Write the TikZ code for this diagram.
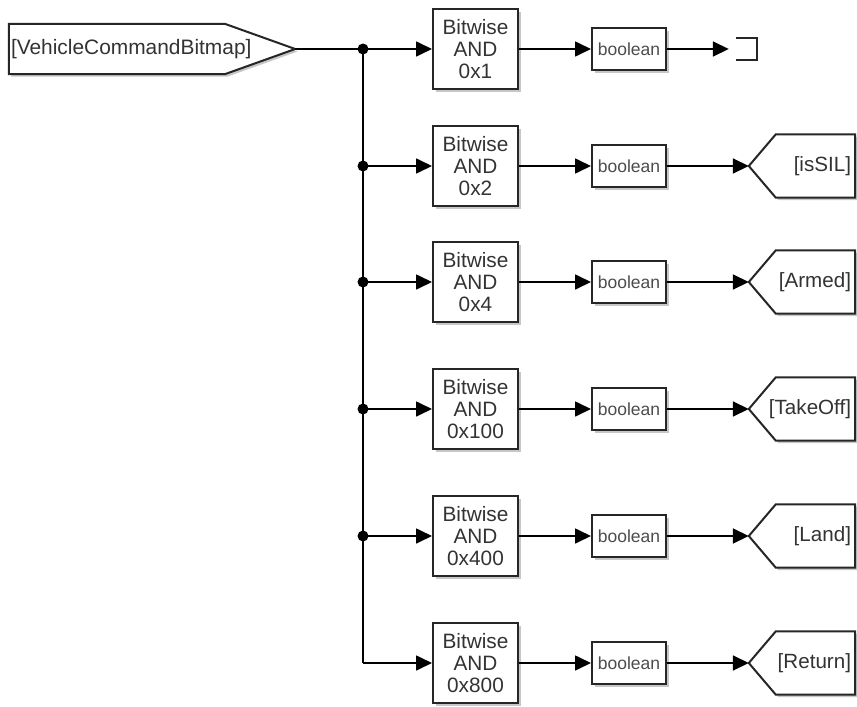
\documentclass[tikz,border=0pt]{standalone}
\usepackage{fontspec}
\setmainfont{Liberation Sans}
\usetikzlibrary{arrows.meta,shadows}
\tikzset{
  shd/.style={drop shadow={shadow xshift=2.5pt, shadow yshift=-2.5pt, fill=black!22, opacity=1}},
  bitblk/.style={draw=black!85, line width=2pt, fill=white, shd, minimum width=85pt, minimum height=80pt,
    inner sep=0pt, align=center, text=black!80, font=\fontsize{20.8}{21.7}\selectfont},
  boolblk/.style={draw=black!85, line width=2pt, fill=white, shd, minimum width=74pt, minimum height=42pt,
    inner sep=0pt, align=center, text=black!70, font=\fontsize{17.5}{18}\selectfont},
  gotolbl/.style={minimum height=63pt, text width=98pt, inner xsep=4pt, inner ysep=0pt, align=right,
    text=black!80, font=\fontsize{20.6}{21.7}\selectfont},
  srclbl/.style={minimum height=50pt, text width=282pt, inner xsep=2pt, inner ysep=0pt, align=left,
    text=black!80, font=\fontsize{20.9}{21.7}\selectfont},
  outline/.style={draw=black!85, line width=2pt, fill=white, shd},
  wire/.style={draw=black, line width=1.7pt},
  arr/.style={wire, -{Triangle[length=16pt,width=15pt]}},
  jdot/.style={circle, fill=black, inner sep=0pt, minimum size=11pt},
}
\begin{document}
\begin{tikzpicture}[x=1pt,y=-1pt]
\useasboundingbox (0,0) rectangle (857,707);
% source goto
\node (src) [srclbl] at (152,49) {};
\path[outline] (src.north west) -- ([xshift=216pt]src.north west) -- (src.east)
   -- ([xshift=216pt]src.south west) -- (src.south west) -- cycle;
\node[srclbl] at (152,49) {[VehicleCommandBitmap]};
% rows
\foreach \r/\y/\m in {1/49/0x1, 2/166/0x2, 3/282/0x4, 4/409/0x100, 5/536/0x400, 6/663/0x800}{
  \coordinate (j\r) at (363,\y);
  \node (b\r) [bitblk] at (475.5,\y) {Bitwise\\AND\\\m};
  \node (c\r) [boolblk] at (629,\y) {boolean};
}
% goto blocks
\foreach \r/\y/\g in {2/166/[isSIL], 3/282/[Armed], 4/409/[TakeOff], 5/536/[Land], 6/663/[Return]}{
  \node (g\r) [gotolbl] at (802,\y) {};
  \path[outline] (g\r.west) -- ([xshift=27pt]g\r.north west) -- (g\r.north east)
     -- (g\r.south east) -- ([xshift=27pt]g\r.south west) -- cycle;
  \node[gotolbl] at (802,\y) {\g};
}
% terminator
\node (t1) [minimum width=28pt, minimum height=22pt, inner sep=0pt] at (743,49) {};
\draw[draw=black!85, line width=2pt] ([xshift=7pt]t1.north west) -- (t1.north east)
   -- (t1.south east) -- ([xshift=7pt]t1.south west);
% wires
\draw[wire] (src.east) -- (j1);
\draw[wire] (j1) -- (j6);
\foreach \r in {1,...,6}{
  \draw[arr] (j\r) -- (b\r.west);
  \draw[arr] (b\r.east) -- (c\r.west);
}
\draw[arr] (c1.east) -- (t1.west);
\foreach \r in {2,...,6}{
  \draw[arr] (c\r.east) -- (g\r.west);
}
\foreach \r in {1,...,5}{
  \node[jdot] at (j\r) {};
}
\end{tikzpicture}
\end{document}
